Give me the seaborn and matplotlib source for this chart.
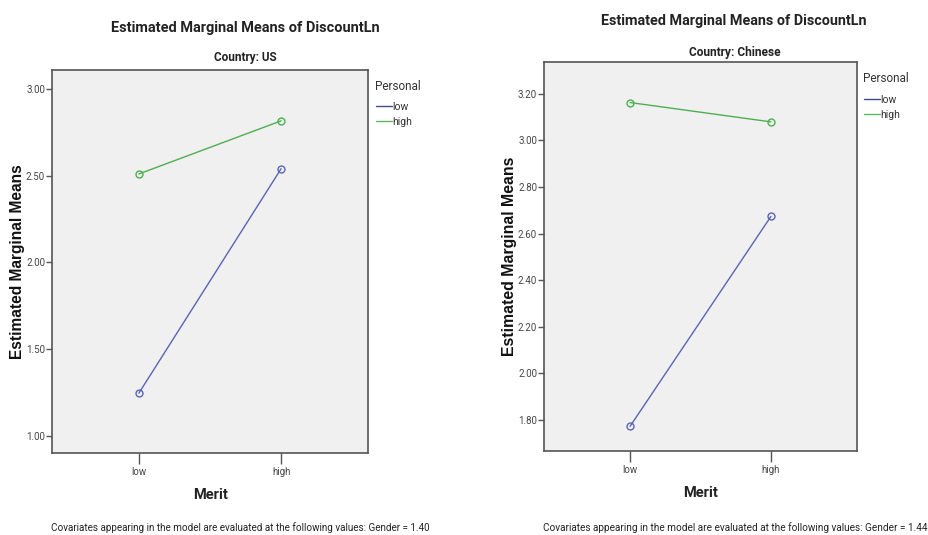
import matplotlib
matplotlib.use('Agg')
import matplotlib.pyplot as plt
from matplotlib import font_manager
import seaborn as sns
import pandas as pd

# Values
merit = ['low', 'high']
personal = ['low', 'high']
us_low = [1.247, 2.54]
us_high = [2.51, 2.816]
cn_low = [1.773, 2.674]
cn_high = [3.163, 3.08]

us_ticks = [1.00, 1.50, 2.00, 2.50, 3.00]
cn_ticks = [1.80, 2.00, 2.20, 2.40, 2.60, 2.80, 3.00, 3.20]
gender_us = 1.40
gender_cn = 1.44

sns.set_theme(style='white')

# SPSS uses Arial Narrow; take a narrow face if there is one
try:
    font_manager.findfont('Liberation Sans Narrow', fallback_to_default=False)
    NARROW = ['Liberation Sans Narrow', 'DejaVu Sans']
except Exception:
    NARROW = ['Roboto', 'DejaVu Sans']
WIDE = ['Liberation Sans', 'DejaVu Sans']
plt.rcParams['font.family'] = NARROW

line_colors = {'low': '#5a64b4', 'high': '#4cb050'}
legend_colors = ['#3e4a8c', '#5db85d']


def make_df(low_vals, high_vals):
    rows = []
    for m, v in zip(merit, low_vals):
        rows.append({'Merit': m, 'Personal': 'low', 'value': v})
    for m, v in zip(merit, high_vals):
        rows.append({'Merit': m, 'Personal': 'high', 'value': v})
    return pd.DataFrame(rows)


W, H = 929, 535
fig = plt.figure(figsize=(W / 100, H / 100), dpi=100)


def fx(px):
    return px / W


def fy(py):
    return 1 - py / H


# layout per panel, in reference pixels
panels = [
    dict(df=make_df(us_low, us_high), country='US', ticks=us_ticks, ylim=(0.902, 3.109),
         box=(52, 70, 368, 453), ylab_right=25, title=(245, 28), sub=(245, 58),
         merit=(211, 495), foot=240.5, leg_title=(375, 86), leg=(376, 102),
         w_title=270, w_sub=63, w_foot=379, w_ylab=196, gender=gender_us),
    dict(df=make_df(cn_low, cn_high), country='Chinese', ticks=cn_ticks, ylim=(1.667, 3.337),
         box=(544, 62, 857, 451), ylab_right=517, title=(734, 21), sub=(735, 52),
         merit=(701, 493), foot=735.5, leg_title=(863, 79), leg=(864, 95),
         w_title=268, w_sub=92, w_foot=385, w_ylab=200, gender=gender_cn),
]

to_fit = []

for p in panels:
    l, t, r, b = p['box']
    ax = fig.add_axes([fx(l), fy(b), fx(r - l), (b - t) / H])
    ax.set_facecolor('#f0f0f0')
    sns.lineplot(data=p['df'], x='Merit', y='value', hue='Personal', hue_order=personal,
                 palette=line_colors, marker='o', markersize=5, linewidth=1.0,
                 ax=ax, legend=False)
    for ln in ax.lines:
        ln.set_markerfacecolor('none')
        ln.set_markeredgecolor(ln.get_color())
        ln.set_markeredgewidth(1.0)
    ax.set_xlim(-0.611, 1.611)
    ax.set_ylim(*p['ylim'])
    ax.set_yticks(p['ticks'])
    ax.set_yticklabels([f'{v:.2f}' for v in p['ticks']])
    ax.set_xticks([0, 1])
    ax.set_xticklabels(merit)
    for s in ax.spines.values():
        s.set_color('#555555')
        s.set_linewidth(1.2)
    ax.tick_params(axis='y', left=True, direction='out', length=4, width=1,
                   color='#555555', labelsize=7, labelcolor='#444444', pad=1)
    ax.tick_params(axis='x', bottom=True, direction='out', length=8, width=1,
                   color='#555555', labelsize=7, labelcolor='#444444', pad=2)
    ax.set_xlabel('')
    ylab = ax.set_ylabel('Estimated Marginal Means', fontsize=9, fontweight='bold',
                         family=WIDE, color='#111111')
    ax.yaxis.set_label_coords(-(l - p['ylab_right']) / (r - l), 0.5)
    to_fit.append((ylab, p['w_ylab'], 'h'))

    # legend: title as plain text, entries as a legend just below it
    fig.text(fx(p['leg_title'][0]), fy(p['leg_title'][1]), 'Personal', ha='left',
             va='center', fontsize=8.5, color='#333333')
    handles = [plt.Line2D([], [], color=c, lw=1.0) for c in legend_colors]
    ax.legend(handles, personal, loc='upper left',
              bbox_to_anchor=(fx(p['leg'][0]), fy(p['leg'][1])),
              bbox_transform=fig.transFigure, frameon=False, fontsize=7.5,
              handlelength=1.5, handletextpad=0.1, labelspacing=0.45,
              borderpad=0, borderaxespad=0, labelcolor='#333333')

    tt = fig.text(fx(p['title'][0]), fy(p['title'][1]), 'Estimated Marginal Means of DiscountLn',
                  ha='center', va='center', fontsize=11, fontweight='bold', color='#222222')
    st = fig.text(fx(p['sub'][0]), fy(p['sub'][1]), f"Country: {p['country']}",
                  ha='center', va='center', fontsize=9, fontweight='bold', color='#222222')
    fig.text(fx(p['merit'][0]), fy(p['merit'][1]), 'Merit', ha='center', va='center',
             fontsize=10.5, fontweight='bold', color='#222222')
    ft = fig.text(fx(p['foot']), fy(528),
                  'Covariates appearing in the model are evaluated at the following values: '
                  f"Gender = {p['gender']:.2f}",
                  ha='center', va='center', fontsize=8, color='#222222')
    to_fit += [(tt, p['w_title'], 'w'), (st, p['w_sub'], 'w'), (ft, p['w_foot'], 'w')]

# scale text sizes so their lengths match the reference
fig.canvas.draw()
renderer = fig.canvas.get_renderer()
for txt, target, dim in to_fit:
    bb = txt.get_window_extent(renderer)
    size = bb.width if dim == 'w' else bb.height
    txt.set_fontsize(txt.get_fontsize() * target / size)

fig.savefig('out.png', dpi=100, facecolor='white')
